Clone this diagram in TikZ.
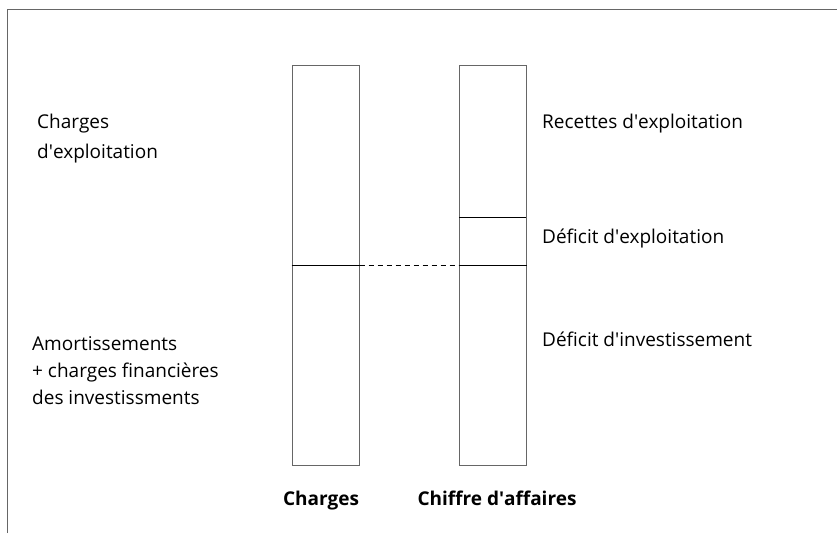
\documentclass[tikz,border=0pt]{standalone}
\usepackage{fontspec}
\setmainfont{Open Sans}
\newcommand{\apo}{\textquotesingle}
\begin{document}
\begin{tikzpicture}[x=1pt,y=-1pt,
  bar/.style={draw=black!60,line width=1pt,minimum width=67pt,minimum height=400pt,inner sep=0pt},
  lbl/.style={anchor=base west,inner sep=0pt,font=\fontsize{19}{27}\selectfont,align=left},
  foot/.style={anchor=base,inner sep=0pt,font=\fontsize{19}{27}\selectfont\bfseries}]

  \useasboundingbox (0,0) rectangle (837,533);
  % frame
  \draw[black!60,line width=1pt] (7.5,533) -- (7.5,9.5) -- (837,9.5);

  \node[bar] (ch) at (325.5,265) {};
  \node[bar] (ca) at (492.5,265) {};
  \coordinate (dw) at (459,217);
  \coordinate (de) at (526,217);

  \path[draw=black,line width=0.8pt]
     (ch.west) edge (ch.east)
     (ca.west) edge (ca.east)
     (dw) edge (de);
  \draw[dashed,line width=0.8pt,dash pattern=on 5pt off 4pt] (ch.east) -- (ca.west);

  \node[lbl,font=\fontsize{19}{30}\selectfont] (chexp) at (37,158) {Charges\\d\apo exploitation};
  \node[lbl] (amort) at (32,404) {Amortissements\\+ charges financières\\des investissments};
  \node[lbl] (rec) at (542,128) {Recettes d\apo exploitation};
  \node[lbl] (defexp) at (542,243) {Déficit d\apo exploitation};
  \node[lbl] (definv) at (542,346) {Déficit d\apo investissement};

  \node[foot] (fch) at (321,505) {Charges};
  \node[foot] (fca) at (497,505) {Chiffre d\apo affaires};
\end{tikzpicture}
\end{document}
